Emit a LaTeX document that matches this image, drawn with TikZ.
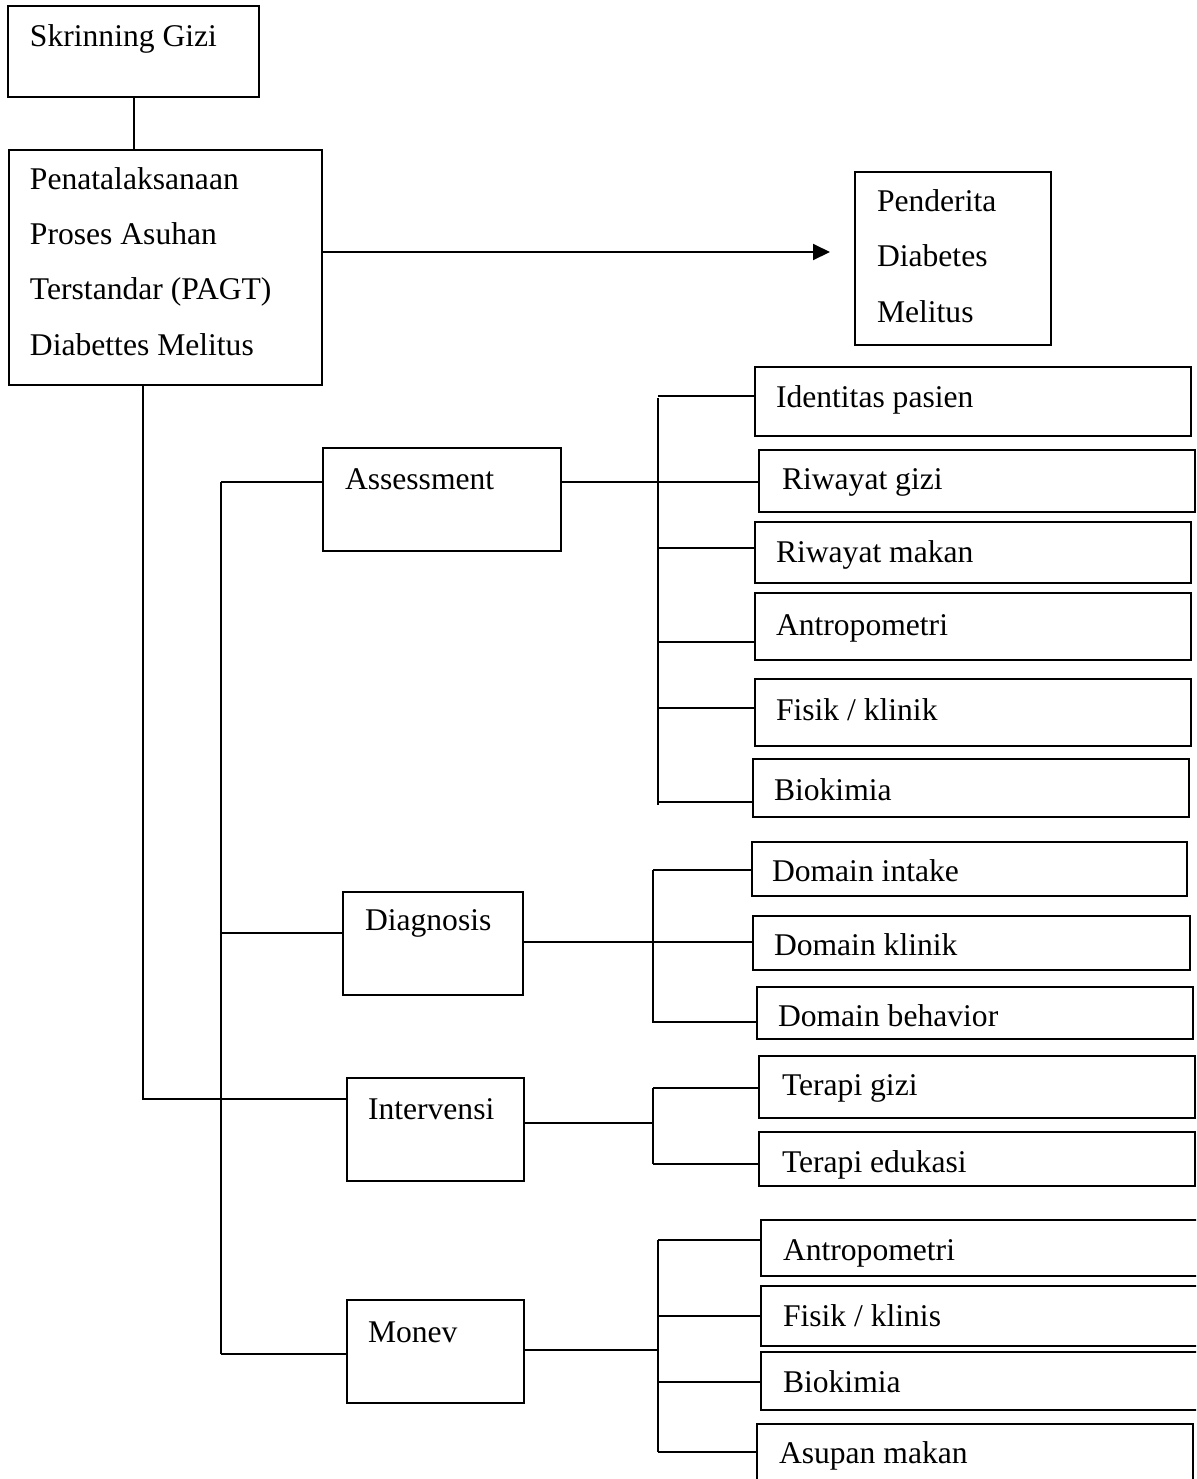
\documentclass[tikz,border=0pt]{standalone}
\usepackage{fontspec}
\setmainfont{Liberation Serif}
\usetikzlibrary{fit,arrows.meta}
\begin{document}
\begin{tikzpicture}[x=0.5pt,y=-0.5pt,
  box/.style={draw=black,line width=1pt,inner sep=0pt,outer sep=0pt,rectangle},
  txt/.style={anchor=base west,inner sep=0pt,outer sep=0pt,font=\fontsize{15.8}{27.6}\selectfont,align=left},
  conn/.style={draw=black,line width=1pt}]
\useasboundingbox (0,0) rectangle (1196,1479);
\clip (0,0) rectangle (1196,1479);
\fill[white] (0,0) rectangle (1196,1479);
% boxes
\node[box,fit={(8,6)(259,97)}] (skr) {};
\node[box,fit={(9,150)(322,385)}] (pagt) {};
\node[box,fit={(855,172)(1051,345)}] (pend) {};
\node[box,fit={(323,448)(561,551)}] (ass) {};
\node[box,fit={(343,892)(523,995)}] (diag) {};
\node[box,fit={(347,1078)(524,1181)}] (intv) {};
\node[box,fit={(347,1300)(524,1403)}] (monev) {};
\node[box,fit={(755,367)(1191,436)}] (id) {};
\node[box,fit={(759,450)(1195,512)}] (rg) {};
\node[box,fit={(755,522)(1191,583)}] (rm) {};
\node[box,fit={(755,593)(1191,660)}] (anA) {};
\node[box,fit={(755,679)(1191,746)}] (fkA) {};
\node[box,fit={(753,759)(1189,817)}] (bkA) {};
\node[box,fit={(752,842)(1187,896)}] (di) {};
\node[box,fit={(753,916)(1190,970)}] (dk) {};
\node[box,fit={(757,987)(1193,1039)}] (db) {};
\node[box,fit={(759,1056)(1195,1118)}] (tg) {};
\node[box,fit={(759,1132)(1195,1186)}] (te) {};
\node[box,fit={(761,1220)(1215,1276)}] (anB) {};
\node[box,fit={(761,1286)(1215,1346)}] (fkB) {};
\node[box,fit={(761,1352)(1215,1410)}] (bkB) {};
\node[box,fit={(757,1424)(1193,1510)}] (am) {};
% texts
\node[txt] (skrT) at (30,46) {Skrinning Gizi};
\node[txt] (pagtT) at (30,355) {Penatalaksanaan\\Proses Asuhan\\Terstandar (PAGT)\\Diabettes Melitus};
\node[txt] (pendT) at (877,322) {Penderita\\Diabetes\\Melitus};
\node[txt] (assT) at (345,489) {Assessment};
\node[txt] (diagT) at (365,930) {Diagnosis};
\node[txt] (intvT) at (368,1119) {Intervensi};
\node[txt] (monevT) at (368,1342) {Monev};
\node[txt] (idT) at (776,407) {Identitas pasien};
\node[txt] (rgT) at (782,489) {Riwayat gizi};
\node[txt] (rmT) at (776,562) {Riwayat makan};
\node[txt] (anAT) at (776,635) {Antropometri};
\node[txt] (fkAT) at (776,720) {Fisik / klinik};
\node[txt] (bkAT) at (774,800) {Biokimia};
\node[txt] (diT) at (772,881) {Domain intake};
\node[txt] (dkT) at (774,955) {Domain klinik};
\node[txt] (dbT) at (778,1026) {Domain behavior};
\node[txt] (tgT) at (782,1095) {Terapi gizi};
\node[txt] (teT) at (782,1172) {Terapi edukasi};
\node[txt] (anBT) at (783,1260) {Antropometri};
\node[txt] (fkBT) at (783,1326) {Fisik / klinis};
\node[txt] (bkBT) at (783,1392) {Biokimia};
\node[txt] (amT) at (779,1463) {Asupan makan};
% top connectors
\draw[conn] (skr.south) -- (skr.south |- pagt.north);
\coordinate (arrS) at (322,252);
\coordinate (arrE) at (830,252);
\draw[conn,-{Triangle[length=8.5pt,width=8pt]}] (arrS -| pagt.east) -- (arrE);
% trunk
\coordinate (t1) at (143,1099);
\draw[conn] (pagt.south -| t1) -- (t1) -- (t1 -| intv.west);
\coordinate (t2a) at (221,482);
\coordinate (t2d) at (221,933);
\coordinate (t2m) at (221,1354);
\draw[conn] (t2a) -- (t2m);
\draw[conn] (t2a) -- (t2a -| ass.west);
\draw[conn] (t2d) -- (t2d -| diag.west);
\draw[conn] (t2m) -- (t2m -| monev.west);
% assessment bracket
\coordinate (a0) at (658,396);
\coordinate (a1) at (658,482);
\coordinate (a2) at (658,548);
\coordinate (a3) at (658,642);
\coordinate (a4) at (658,708);
\coordinate (a5) at (658,802);
\draw[conn] (658,398) -- (658,805);
\draw[conn] (a0) -- (a0 -| id.west);
\draw[conn] (a1 -| ass.east) -- (a1 -| rg.west);
\draw[conn] (a2) -- (a2 -| rm.west);
\draw[conn] (a3) -- (a3 -| anA.west);
\draw[conn] (a4) -- (a4 -| fkA.west);
\draw[conn] (a5) -- (a5 -| bkA.west);
% diagnosis bracket
\coordinate (d0) at (653,870);
\coordinate (d1) at (653,942);
\coordinate (d2) at (653,1022);
\draw[conn] (d0) -- (653,1023);
\draw[conn] (d0) -- (d0 -| di.west);
\draw[conn] (d1 -| diag.east) -- (d1 -| dk.west);
\draw[conn] (d2) -- (d2 -| db.west);
% intervensi bracket
\coordinate (i0) at (653,1088);
\coordinate (i1) at (653,1123);
\coordinate (i2) at (653,1164);
\draw[conn] (i0) -- (i2);
\draw[conn] (i1 -| intv.east) -- (i1);
\draw[conn] (i0) -- (i0 -| tg.west);
\draw[conn] (i2) -- (i2 -| te.west);
% monev bracket
\coordinate (m0) at (658,1240);
\coordinate (m1) at (658,1316);
\coordinate (mc) at (658,1350);
\coordinate (m2) at (658,1382);
\coordinate (m3) at (658,1452);
\draw[conn] (m0) -- (m3);
\draw[conn] (mc -| monev.east) -- (mc);
\draw[conn] (m0) -- (m0 -| anB.west);
\draw[conn] (m1) -- (m1 -| fkB.west);
\draw[conn] (m2) -- (m2 -| bkB.west);
\draw[conn] (m3) -- (m3 -| am.west);
\end{tikzpicture}
\end{document}
